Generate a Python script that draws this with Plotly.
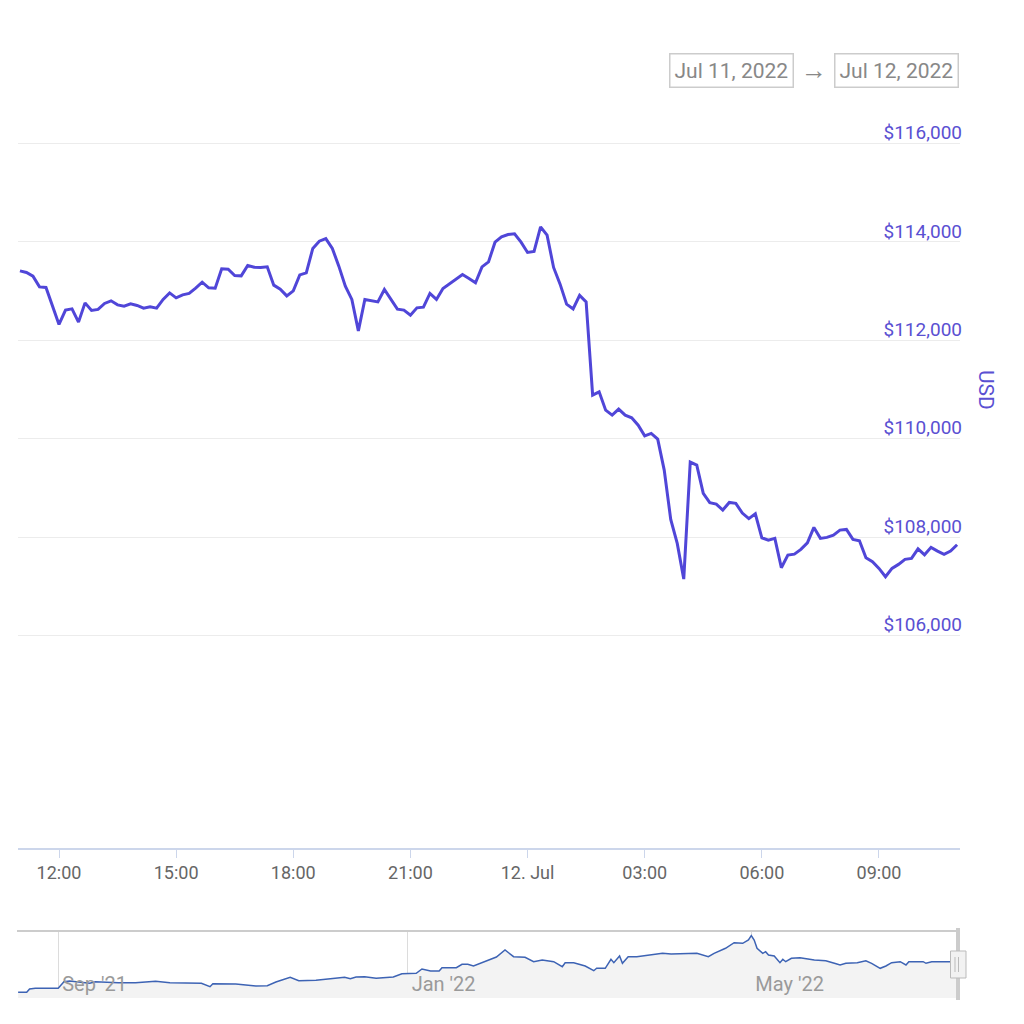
import plotly.graph_objects as go
import pandas as pd

# ---------------- data ----------------
main_start = "2022-07-11 11:00"
main_step = "10min"
main_prices = [
    113413, 113380, 113305, 113087, 113075, 112700, 112323, 112614, 112640, 112370,
    112762, 112608, 112628, 112750, 112803, 112721, 112695, 112742, 112709, 112654,
    112681, 112654, 112831, 112965, 112864, 112925, 112953, 113061, 113183, 113067,
    113060, 113453, 113447, 113319, 113311, 113522, 113488, 113480, 113494, 113122,
    113041, 112904, 113006, 113331, 113372, 113868, 114016, 114067, 113868, 113508,
    113102, 112831, 112193, 112831, 112803, 112782, 113034, 112831, 112634, 112614,
    112512, 112661, 112675, 112953, 112831, 113055, 113156, 113238, 113339, 113258,
    113169, 113494, 113595, 113996, 114104, 114152, 114165, 113996, 113787, 113807,
    114307, 114138, 113482, 113142, 112736, 112638, 112915, 112782, 110886, 110953,
    110581, 110480, 110602, 110480, 110425, 110276, 110059, 110108, 109992, 109362,
    108360, 107872, 107146, 109524, 109463, 108888, 108701, 108671, 108549, 108705,
    108685, 108488, 108376, 108474, 107986, 107939, 107974, 107376, 107634, 107654,
    107750, 107884, 108197, 107974, 107994, 108041, 108142, 108156, 107953, 107925,
    107579, 107498, 107364, 107193, 107364, 107445, 107547, 107567, 107762, 107640,
    107791, 107715, 107648, 107715, 107844,
]
x_tick_vals = ["2022-07-11 12:00", "2022-07-11 15:00", "2022-07-11 18:00", "2022-07-11 21:00",
               "2022-07-12 00:00", "2022-07-12 03:00", "2022-07-12 06:00", "2022-07-12 09:00"]
x_tick_text = ["12:00", "15:00", "18:00", "21:00", "12. Jul", "03:00", "06:00", "09:00"]
y_tick_vals = [106000, 108000, 110000, 112000, 114000, 116000]
y_tick_text = ["$106,000", "$108,000", "$110,000", "$112,000", "$114,000", "$116,000"]

nav_dates = [
    "2021-08-18", "2021-08-21", "2021-08-22", "2021-08-24", "2021-09-01", "2021-09-03",
    "2021-09-05", "2021-09-12", "2021-09-14", "2021-09-18", "2021-09-22", "2021-09-28",
    "2021-10-05", "2021-10-10", "2021-10-16", "2021-10-21", "2021-10-24", "2021-10-25",
    "2021-11-02", "2021-11-09", "2021-11-13", "2021-11-16", "2021-11-21", "2021-11-24",
    "2021-11-30", "2021-12-05", "2021-12-10", "2021-12-12", "2021-12-14", "2021-12-17",
    "2021-12-21", "2021-12-27", "2021-12-30", "2022-01-04", "2022-01-06", "2022-01-09",
    "2022-01-12", "2022-01-13", "2022-01-18", "2022-01-20", "2022-01-22", "2022-01-24",
    "2022-01-27", "2022-01-30", "2022-02-01", "2022-02-04", "2022-02-07", "2022-02-11",
    "2022-02-14", "2022-02-17", "2022-02-21", "2022-02-24", "2022-02-25", "2022-02-28",
    "2022-03-04", "2022-03-07", "2022-03-08", "2022-03-11", "2022-03-13", "2022-03-14",
    "2022-03-16", "2022-03-17", "2022-03-19", "2022-03-22", "2022-03-27", "2022-03-31",
    "2022-04-03", "2022-04-08", "2022-04-12", "2022-04-16", "2022-04-18", "2022-04-22",
    "2022-04-25", "2022-04-28", "2022-04-30", "2022-05-01", "2022-05-02", "2022-05-03",
    "2022-05-05", "2022-05-06", "2022-05-07", "2022-05-09", "2022-05-11", "2022-05-12",
    "2022-05-13", "2022-05-15", "2022-05-18", "2022-05-23", "2022-05-27", "2022-05-30",
    "2022-06-01", "2022-06-03", "2022-06-07", "2022-06-10", "2022-06-12", "2022-06-15",
    "2022-06-17", "2022-06-19", "2022-06-22", "2022-06-24", "2022-06-25", "2022-06-30",
    "2022-07-01", "2022-07-03", "2022-07-10", "2022-07-12",
]
nav_values = [
    90690, 90690, 92537, 92929, 92929, 96623,
    97015, 95728, 96623, 96287, 96063, 96063,
    96847, 96063, 95728, 95728, 93825, 95504,
    95336, 94216, 94384, 96455, 99086, 97183,
    97407, 98302, 99086, 98302, 99254, 99422,
    98526, 99254, 101101, 101325, 103731, 102612,
    102612, 104459, 104459, 106362, 106362, 105410,
    107257, 108769, 110448, 114366, 110616, 110280,
    107817, 108769, 107817, 105019, 107257, 107257,
    105410, 102780, 104123, 104123, 109160, 107257,
    111007, 106922, 110616, 110616, 111567, 112519,
    112127, 112519, 112519, 110616, 112519, 115317,
    118451, 118116, 119963, 122369, 119963, 115317,
    112519, 113414, 111567, 111007, 107257, 109160,
    107817, 109720, 110056, 108769, 108377, 106922,
    105970, 106922, 107257, 108377, 106922, 104123,
    105410, 107257, 107817, 105970, 107817, 107817,
    106922, 107817, 107817, 107817,
]
nav_tick_vals = ["2021-09-01", "2022-01-01", "2022-05-01"]
nav_tick_text = ["Sep '21", "Jan '22", "May '22"]

# ---------------- layout helpers ----------------
W = H = 1024
def px(x):
    return x / W
def py(y):
    return 1 - y / H

LINE = "#5046d8"
LABEL = "#5a50d2"
FONT = "Roboto"

main_times = pd.date_range(main_start, periods=len(main_prices), freq=main_step)

fig = go.Figure()
fig.add_trace(go.Scatter(
    x=main_times, y=main_prices, mode="lines",
    line=dict(color=LINE, width=3), xaxis="x", yaxis="y",
    hoverinfo="skip", showlegend=False,
))
fig.add_trace(go.Scatter(
    x=pd.to_datetime(nav_dates), y=nav_values, mode="lines",
    line=dict(color="#3d63b4", width=1.5), fill="tozeroy", fillcolor="#f3f3f3",
    xaxis="x2", yaxis="y2", hoverinfo="skip", showlegend=False,
))

fig.update_layout(
    width=W, height=H,
    margin=dict(l=0, r=0, t=0, b=0),
    paper_bgcolor="white", plot_bgcolor="white",
    font=dict(family=FONT, size=18, color="#666666"),
    xaxis=dict(
        domain=[px(18), px(960)],
        type="date",
        range=["2022-07-11 10:57", "2022-07-12 11:04:30"],
        anchor="y",
        showgrid=False, zeroline=False,
        showline=True, linecolor="#ccd6eb", linewidth=1.5,
        ticks="outside", ticklen=8, tickcolor="#ccd6eb", tickwidth=1,
        tickvals=x_tick_vals, ticktext=x_tick_text,
        tickfont=dict(family=FONT, size=18, color="#666666"),
        fixedrange=True,
    ),
    yaxis=dict(
        domain=[py(848), py(94.4)],
        range=[101679, 117000],
        side="right", anchor="x",
        showgrid=True, gridcolor="#ececec", gridwidth=1,
        zeroline=False, showline=False,
        tickvals=y_tick_vals, ticktext=y_tick_text,
        ticklabelposition="inside",
        ticklabelshift=-11,
        ticklabelstandoff=-5,
        tickfont=dict(family=FONT, size=19, color=LABEL),
        fixedrange=True,
    ),
    xaxis2=dict(
        domain=[px(18), px(958)],
        type="date",
        range=["2021-08-17 23:00", "2022-07-12 04:00"],
        anchor="y2",
        showgrid=True, gridcolor="#dcdcdc", gridwidth=1,
        zeroline=False, showline=False,
        tickvals=nav_tick_vals, ticktext=nav_tick_text,
        ticklabelposition="inside right",
        ticklabelshift=4,
        ticklabelstandoff=-3,
        tickfont=dict(family=FONT, size=20, color="#9a9a9a"),
        fixedrange=True,
    ),
    yaxis2=dict(
        domain=[py(998), py(931)],
        range=[87500, 125000],
        anchor="x2",
        showgrid=False, zeroline=False, showline=False, showticklabels=False,
        fixedrange=True,
    ),
    shapes=[
        # navigator top outline
        dict(type="line", xref="paper", yref="paper", x0=px(17), x1=px(958), y0=py(931), y1=py(931),
             line=dict(color="#cccccc", width=2)),
        # navigator selected-zone edge
        dict(type="line", xref="paper", yref="paper", x0=px(958), x1=px(958), y0=py(928), y1=py(1000),
             line=dict(color="#cccccc", width=4)),
        # handle
        dict(type="rect", xref="paper", yref="paper", x0=px(950.5), x1=px(966), y0=py(978), y1=py(951),
             line=dict(color="#bbbbbb", width=1), fillcolor="#f2f2f2"),
        dict(type="line", xref="paper", yref="paper", x0=px(955), x1=px(955), y0=py(957), y1=py(972),
             line=dict(color="#bbbbbb", width=1)),
        dict(type="line", xref="paper", yref="paper", x0=px(958.5), x1=px(958.5), y0=py(957), y1=py(972),
             line=dict(color="#bbbbbb", width=1)),
    ],
    annotations=[
        dict(text="USD", xref="paper", yref="paper", x=px(986), y=py(390), showarrow=False,
             textangle=90, font=dict(family=FONT, size=21, color=LABEL),
             xanchor="center", yanchor="middle"),
        dict(text="Jul 11, 2022", xref="paper", yref="paper", x=px(731.5), y=py(70), showarrow=False,
             font=dict(family=FONT, size=21, color="#888888"), bordercolor="#cccccc", borderwidth=1.5,
             borderpad=4, bgcolor="white", xanchor="center", yanchor="middle"),
        dict(text="→", xref="paper", yref="paper", x=px(814), y=py(70), showarrow=False,
             font=dict(family=FONT, size=26, color="#888888"), xanchor="center", yanchor="middle"),
        dict(text="Jul 12, 2022", xref="paper", yref="paper", x=px(896.5), y=py(70), showarrow=False,
             font=dict(family=FONT, size=21, color="#888888"), bordercolor="#cccccc", borderwidth=1.5,
             borderpad=4, bgcolor="white", xanchor="center", yanchor="middle"),
    ],
)

fig.write_html("out.html", config={"displayModeBar": False},
               post_script="document.body.style.margin='0';document.body.style.overflow='hidden';")
